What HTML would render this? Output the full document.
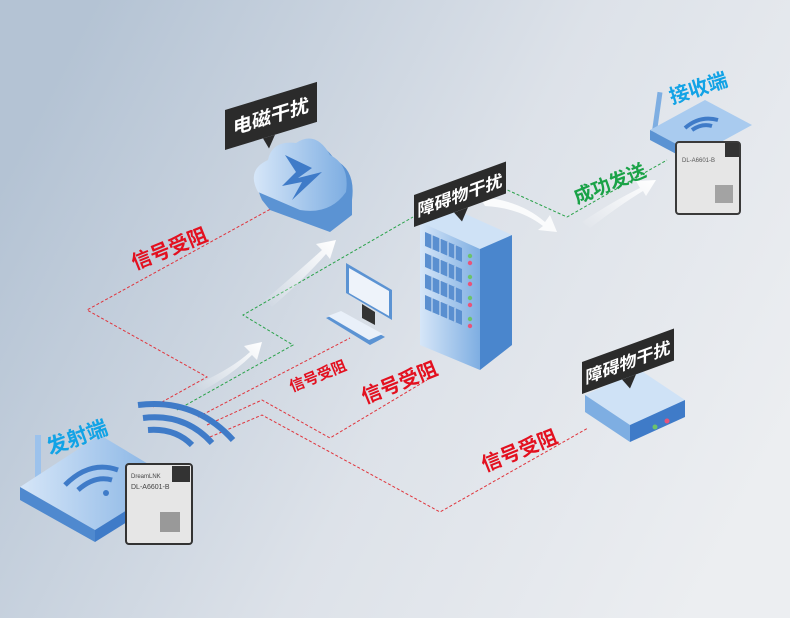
<!DOCTYPE html>
<html><head><meta charset="utf-8"><style>
html,body{margin:0;padding:0}
body{width:790px;height:618px;overflow:hidden;font-family:"Liberation Sans","Noto Sans CJK SC",sans-serif}
</style></head><body>
<svg width="790" height="618" viewBox="0 0 790 618" xmlns="http://www.w3.org/2000/svg" font-family="Liberation Sans, Noto Sans CJK SC, sans-serif">
<defs>
<linearGradient id="bg" x1="0" y1="0.3" x2="1" y2="0.7">
<stop offset="0" stop-color="#b4c3d4"/><stop offset="0.55" stop-color="#dde2e9"/><stop offset="1" stop-color="#eceef1"/></linearGradient>
<linearGradient id="bl" x1="0" y1="0" x2="1" y2="0"><stop offset="0" stop-color="#d6e6f8"/><stop offset="1" stop-color="#7eaee2"/></linearGradient>
<linearGradient id="wa" x1="0" y1="1" x2="1" y2="0"><stop offset="0" stop-color="#fff" stop-opacity="0"/><stop offset="1" stop-color="#fff"/></linearGradient>
</defs>
<rect width="790" height="618" fill="url(#bg)"/>

<g fill="none" stroke-width="1" stroke-dasharray="3,2">
<polyline stroke="#e0343c" points="153,407 207,377 87,310 287,200"/>
<polyline stroke="#2aa24a" points="177,410 293,345 243,315 413,217"/>
<polyline stroke="#2aa24a" points="503,188 567,217 667,160"/>
<polyline stroke="#e0343c" points="198,417 350,338"/>
<polyline stroke="#e0343c" points="207,425 262,400 330,438 427,380"/>
<polyline stroke="#e0343c" points="210,437 262,415 440,512 588,428"/>
</g>

<g fill="url(#wa)">
<path d="M195,385 Q230,370 250,352 L244,346 L262,342 L257,360 L252,355 Q232,375 200,392Z"/>
<path d="M265,300 Q300,270 322,250 L316,244 L336,240 L330,259 L326,254 Q305,278 272,307Z"/>
<path d="M582,222 Q615,200 640,188 L636,181 L656,180 L646,196 L643,191 Q620,205 590,228Z"/>
</g>
<path d="M480,197 Q520,200 545,222 L550,215 L557,232 L538,230 L543,226 Q520,208 485,206Z" fill="#fff" opacity="0.85"/>

<g>
<path d="M262,200 Q250,175 272,165 Q275,145 300,148 Q318,135 335,160 Q356,170 352,200 L352,215 L330,232 L270,210Z" fill="#5b93d3"/>
<path d="M258,192 Q246,170 268,160 Q272,140 296,143 Q316,130 330,155 Q350,165 346,192 Q330,215 300,210Z" fill="url(#bl)"/>
<path d="M285,155 L312,168 L298,178 L322,172 L292,200 L302,182 L282,186 L296,172Z" fill="#3f7bc8"/>
</g>
<g transform="translate(225,110) skewY(-17)">
<rect x="0" y="0" width="92" height="40" fill="#2b2b2b"/>
<polygon points="38,40 50,40 44,52" fill="#2b2b2b"/>
<text x="46" y="27" fill="#fff" font-size="19" text-anchor="middle" font-weight="bold">电磁干扰</text>
</g>

<!-- server -->
<g>
<polygon points="420,222 452,208 512,235 480,249" fill="#cfe2f6"/>
<polygon points="420,222 480,249 480,370 420,345" fill="url(#bl)"/>
<polygon points="480,249 512,235 512,345 480,370" fill="#4a86cd"/>
<g fill="#5a8fd0">
<polygon points="425,232 462,248 462,262 425,246"/>
<polygon points="425,253 462,269 462,283 425,267"/>
<polygon points="425,274 462,290 462,304 425,288"/>
<polygon points="425,295 462,311 462,325 425,309"/>
</g>
<g fill="none" stroke="#dbe8f7" stroke-width="1">
<path d="M432,235 V249 M440,238 V253 M448,242 V256 M455,245 V259 M432,256 V270 M440,259 V274 M448,263 V277 M455,266 V280 M432,277 V291 M440,280 V295 M448,284 V298 M455,287 V301 M432,298 V312 M440,301 V316 M448,305 V319 M455,308 V322"/>
</g>
<circle cx="470" cy="256" r="2.2" fill="#6cc36b"/><circle cx="470" cy="263" r="2.2" fill="#e8547a"/>
<circle cx="470" cy="277" r="2.2" fill="#6cc36b"/><circle cx="470" cy="284" r="2.2" fill="#e8547a"/>
<circle cx="470" cy="298" r="2.2" fill="#6cc36b"/><circle cx="470" cy="305" r="2.2" fill="#e8547a"/>
<circle cx="470" cy="319" r="2.2" fill="#6cc36b"/><circle cx="470" cy="326" r="2.2" fill="#e8547a"/>
</g>
<g transform="translate(414,195) skewY(-20)">
<rect width="92" height="32" fill="#2b2b2b"/>
<polygon points="40,32 54,32 48,44" fill="#2b2b2b"/>
<text x="46" y="23" fill="#fff" font-size="17" text-anchor="middle" font-weight="bold">障碍物干扰</text>
</g>

<g>
<polygon points="346,263 392,290 392,320 346,293" fill="#5b93d3"/>
<polygon points="349,268 389,291 389,316 349,293" fill="#eef3fa"/>
<polygon points="362,304 375,312 375,325 362,318" fill="#333"/>
<polygon points="326,318 340,312 385,337 370,345" fill="#5b93d3"/>
<polygon points="328,316 341,311 383,334 369,340" fill="#e9f0f9"/>
</g>

<g>
<polygon points="585,395 640,370 685,400 630,425" fill="#cfe2f6"/>
<polygon points="585,395 630,425 630,442 585,412" fill="#7eaee2"/>
<polygon points="630,425 685,400 685,417 630,442" fill="#3f7bc8"/>
<circle cx="655" cy="427" r="2.5" fill="#6cc36b"/><circle cx="667" cy="421" r="2.5" fill="#e8547a"/>
</g>
<g transform="translate(582,362) skewY(-20)">
<rect width="92" height="32" fill="#2b2b2b"/>
<polygon points="40,32 54,32 48,44" fill="#2b2b2b"/>
<text x="46" y="23" fill="#fff" font-size="17" text-anchor="middle" font-weight="bold">障碍物干扰</text>
</g>

<g>
<rect x="655" y="92" width="5" height="42" fill="#7eaee2" transform="rotate(8 657 110)"/>
<polygon points="650,130 705,100 752,125 697,155" fill="#a9cbef"/>
<polygon points="650,130 697,155 697,165 650,140" fill="#5b93d3"/>
<path d="M685,128 Q700,115 718,120" stroke="#3f7bc8" stroke-width="4" fill="none"/>
<path d="M692,130 Q702,123 712,126" stroke="#3f7bc8" stroke-width="4" fill="none"/>
<rect x="676" y="142" width="64" height="72" rx="3" fill="#e6e6e6" stroke="#3a3a3a" stroke-width="2"/>
<rect x="725" y="143" width="14" height="14" fill="#333"/>
<text x="682" y="162" font-size="6" fill="#555">DL-A6601-B</text>
<rect x="715" y="185" width="18" height="18" fill="#777" opacity="0.6"/>
</g>
<text transform="translate(672,104) rotate(-18)" font-size="20" fill="#12a3e6" font-weight="bold">接收端</text>

<g>
<rect x="35" y="435" width="6" height="60" fill="#9cc2ec"/>
<polygon points="20,487 100,435 175,480 95,530" fill="url(#bl)"/>
<polygon points="20,487 95,530 95,542 20,500" fill="#4f89cf"/>
<polygon points="95,530 175,480 175,492 95,542" fill="#3f7bc8"/>
<path d="M65,485 Q90,460 118,470" stroke="#3f7bc8" stroke-width="5" fill="none"/>
<path d="M78,490 Q95,475 112,480" stroke="#3f7bc8" stroke-width="5" fill="none"/>
<circle cx="106" cy="493" r="3" fill="#3f7bc8"/>
<rect x="126" y="464" width="66" height="80" rx="3" fill="#e6e6e6" stroke="#333" stroke-width="2"/>
<rect x="172" y="466" width="18" height="16" fill="#333"/>
<text x="131" y="478" font-size="6" fill="#444">DreamLNK</text>
<text x="131" y="489" font-size="7" fill="#444">DL-A6601-B</text>
<rect x="160" y="512" width="20" height="20" fill="#666" opacity="0.6"/>
</g>
<text transform="translate(50,455) rotate(-20)" font-size="21" fill="#12a3e6" font-weight="bold">发射端</text>

<g fill="none" stroke="#3f7bc8" stroke-width="6">
<path d="M138,405 Q195,398 233,440"/>
<path d="M143,418 Q185,413 212,443"/>
<path d="M148,430 Q175,428 192,445"/>
</g>

<g fill="#e3101f" font-weight="bold">
<text transform="translate(135,270) rotate(-22)" font-size="20">信号受阻</text>
<text transform="translate(292,392) rotate(-22)" font-size="15">信号受阻</text>
<text transform="translate(365,404) rotate(-22)" font-size="20">信号受阻</text>
<text transform="translate(485,472) rotate(-22)" font-size="20">信号受阻</text>
</g>
<text transform="translate(577,204) rotate(-22)" font-size="19" fill="#1aa247" font-weight="bold">成功发送</text>
</svg>
</body></html>
